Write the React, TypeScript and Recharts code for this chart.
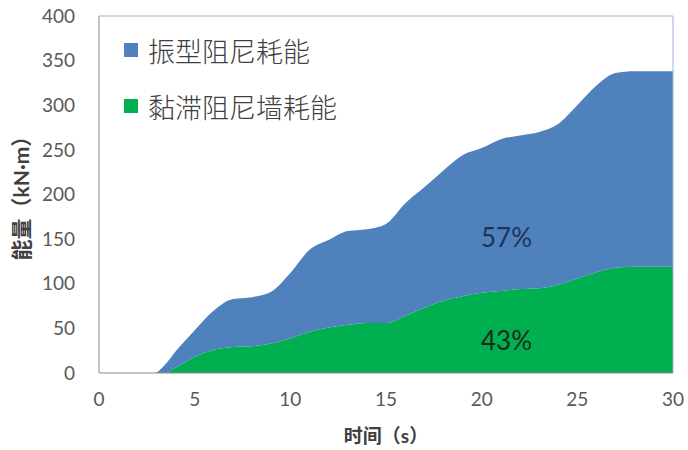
import { AreaChart, Area, XAxis, YAxis, ReferenceLine, ReferenceDot } from 'recharts';

// time (s)
const times = [0, 1, 2, 2.9, 3.4, 4, 5, 6, 7, 8, 9, 10, 11, 12, 13, 14, 15, 16, 17, 18, 19, 20, 21, 22, 23, 24, 25, 26, 27, 28, 29, 30];
// 黏滞阻尼墙耗能 (kN·m)
const wallEnergy = [0, 0, 0, 0, 0, 6, 18, 26, 29, 30, 33, 39, 46, 51, 54, 56, 56, 64, 73, 81, 86, 90, 92, 94, 95, 99, 106, 113, 118, 119, 119, 119];
// 振型阻尼耗能 (kN·m), stacked on top of wall energy
const modalEnergy = [0, 0, 0, 0, 8, 18, 30, 44, 54, 55, 58, 73, 92, 98, 105, 105, 111, 126, 135, 146, 158, 162, 170, 172, 175, 180, 194, 209, 218, 219, 219, 219];

const xTicks = [0, 5, 10, 15, 20, 25, 30];
const yTicks = [0, 50, 100, 150, 200, 250, 300, 350, 400];

const seriesNames = ['振型阻尼耗能', '黏滞阻尼墙耗能'];
const seriesColors = ['#4F81BD', '#00B050'];

const pctLabels = ['57%', '43%'];
const pctX = [21.3, 21.3];
const pctY = [152, 36];

const data = times.map((t, i) => ({ t, wall: wallEnergy[i], modal: modalEnergy[i] }));

const TICK = { fill: '#595959', fontSize: 19, fontFamily: 'Lato, "Noto Sans", sans-serif' };
const CJK = 'Lato, "Noto Sans CJK SC", sans-serif';

// legend drawn as an overlay inside the plot area (top-left)
function LegendBox() {
  return (
    <div style={{ position: 'absolute', left: 124, top: 22, fontFamily: '"Noto Sans CJK SC", sans-serif' }}>
      {seriesNames.map((name, i) => (
        <div key={name} style={{ display: 'flex', alignItems: 'center', height: 56 }}>
          <span style={{ width: 14, height: 14, background: seriesColors[i], marginRight: 10 }} />
          <span style={{ fontSize: 27, color: '#404040', fontWeight: 300 }}>{name}</span>
        </div>
      ))}
    </div>
  );
}

export default function App() {
  return (
    <div style={{ position: 'absolute', left: 0, top: 0, width: 688, height: 450, background: '#fff' }}>
      <AreaChart width={688} height={450} data={data} margin={{ top: 16, right: 15, bottom: 47, left: 39 }}>
        <XAxis
          dataKey="t"
          type="number"
          domain={[0, 30]}
          ticks={xTicks}
          tick={TICK}
          tickLine={false}
          axisLine={{ stroke: '#8c8c8c' }}
          tickMargin={14}
          height={30}
          label={{ value: '时间（s）', position: 'insideBottom', dy: 45, fill: '#404040', fontSize: 19, fontWeight: 'bold', fontFamily: CJK }}
        />
        <YAxis
          type="number"
          domain={[0, 400]}
          ticks={yTicks}
          tick={TICK}
          tickLine={false}
          axisLine={{ stroke: '#8c8c8c' }}
          tickMargin={18}
          width={60}
          label={{ value: '能量（kN·m）', angle: -90, position: 'insideLeft', dx: -22, dy: 66, fill: '#404040', fontSize: 21, fontWeight: 'bold', fontFamily: CJK }}
        />
        <ReferenceLine y={400} stroke="#9db3d8" />
        <ReferenceLine x={30} stroke="#9db3d8" />
        <Area type="monotone" dataKey="wall" name={seriesNames[1]} stackId="e" stroke="none" fill={seriesColors[1]} fillOpacity={1} isAnimationActive={false} />
        <Area type="monotone" dataKey="modal" name={seriesNames[0]} stackId="e" stroke="none" fill={seriesColors[0]} fillOpacity={1} isAnimationActive={false} />
        {pctLabels.map((p, i) => (
          <ReferenceDot
            key={p}
            x={pctX[i]}
            y={pctY[i]}
            r={0}
            fill="none"
            stroke="none"
            label={{ value: p, position: 'center', fontSize: 26, fill: i === 0 ? '#1f3358' : '#1a2a1a', fontFamily: 'Lato, sans-serif' }}
          />
        ))}
      </AreaChart>
      <LegendBox />
    </div>
  );
}
